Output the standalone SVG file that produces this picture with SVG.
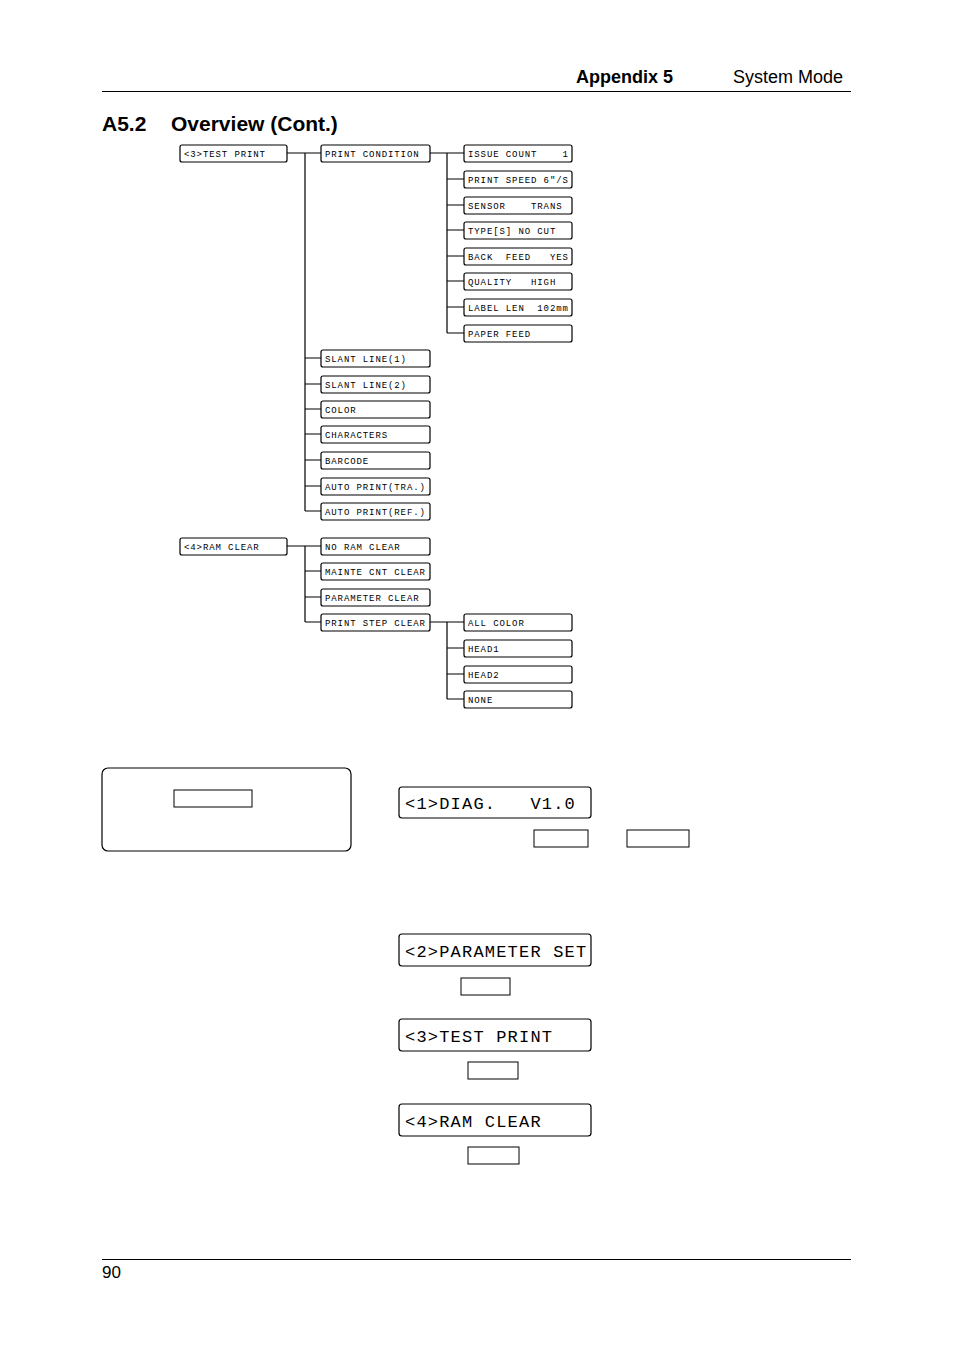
<svg xmlns="http://www.w3.org/2000/svg" width="954" height="1351" viewBox="0 0 954 1351">
<style>
.b{fill:#fff;stroke:#000;stroke-width:1.2}
.s{font-family:"Liberation Mono",monospace;font-size:9px;letter-spacing:0.9px;white-space:pre}
.L{font-family:"Liberation Mono",monospace;font-size:17px;letter-spacing:1.2px;white-space:pre}
.c{stroke:#000;stroke-width:1.2;fill:none}
.e{fill:#fff;stroke:#000;stroke-width:1}
.h{font-family:"Liberation Sans",Arial,sans-serif}
</style>
<rect width="954" height="1351" fill="#fff"/>
<text class="h" x="576" y="83" font-size="18" font-weight="bold">Appendix 5</text>
<text class="h" x="733" y="83" font-size="18">System Mode</text>
<line x1="102" y1="91.5" x2="851" y2="91.5" stroke="#000"/>
<text class="h" x="102" y="131" font-size="21" font-weight="bold">A5.2</text>
<text class="h" x="171" y="131" font-size="21" font-weight="bold">Overview (Cont.)</text>
<line x1="102" y1="1259.5" x2="851" y2="1259.5" stroke="#000"/>
<text class="h" x="102" y="1278" font-size="17">90</text>

<g id="connectors">
<path class="c" d="M287 153H321M305 153V511M305 358H321M305 384H321M305 409H321M305 434H321M305 460H321M305 486H321M305 511H321"/>
<path class="c" d="M430 153H464M447 153V333M447 179H464M447 205H464M447 230H464M447 256H464M447 281H464M447 307H464M447 333H464"/>
<path class="c" d="M287 546H321M305 546V622M305 571H321M305 597H321M305 622H321"/>
<path class="c" d="M430 622H464M447 622V699M447 648H464M447 674H464M447 699H464"/>
</g>

<g id="n-test"><rect class="b" x="180" y="145" width="107" height="17" rx="2"/><text class="s" x="184" y="156.5">&lt;3&gt;TEST PRINT</text></g>
<g id="n-pc"><rect class="b" x="321" y="145" width="109" height="17" rx="2"/><text class="s" x="325" y="156.5">PRINT CONDITION</text></g>
<g id="n-ic"><rect class="b" x="464" y="145" width="108" height="17" rx="2"/><text class="s" x="468" y="156.5">ISSUE COUNT    1</text></g>
<g id="n-ps"><rect class="b" x="464" y="171" width="108" height="17" rx="2"/><text class="s" x="468" y="182.5">PRINT SPEED 6"/S</text></g>
<g id="n-se"><rect class="b" x="464" y="197" width="108" height="17" rx="2"/><text class="s" x="468" y="208.5">SENSOR    TRANS</text></g>
<g id="n-ty"><rect class="b" x="464" y="222" width="108" height="17" rx="2"/><text class="s" x="468" y="233.5">TYPE[S] NO CUT</text></g>
<g id="n-bf"><rect class="b" x="464" y="248" width="108" height="17" rx="2"/><text class="s" x="468" y="259.5">BACK  FEED   YES</text></g>
<g id="n-qu"><rect class="b" x="464" y="273" width="108" height="17" rx="2"/><text class="s" x="468" y="284.5">QUALITY   HIGH</text></g>
<g id="n-ll"><rect class="b" x="464" y="299" width="108" height="17" rx="2"/><text class="s" x="468" y="310.5">LABEL LEN  102mm</text></g>
<g id="n-pf"><rect class="b" x="464" y="325" width="108" height="17" rx="2"/><text class="s" x="468" y="336.5">PAPER FEED</text></g>
<g id="n-sl1"><rect class="b" x="321" y="350" width="109" height="17" rx="2"/><text class="s" x="325" y="361.5">SLANT LINE(1)</text></g>
<g id="n-sl2"><rect class="b" x="321" y="376" width="109" height="17" rx="2"/><text class="s" x="325" y="387.5">SLANT LINE(2)</text></g>
<g id="n-co"><rect class="b" x="321" y="401" width="109" height="17" rx="2"/><text class="s" x="325" y="412.5">COLOR</text></g>
<g id="n-ch"><rect class="b" x="321" y="426" width="109" height="17" rx="2"/><text class="s" x="325" y="437.5">CHARACTERS</text></g>
<g id="n-ba"><rect class="b" x="321" y="452" width="109" height="17" rx="2"/><text class="s" x="325" y="463.5">BARCODE</text></g>
<g id="n-apt"><rect class="b" x="321" y="478" width="109" height="17" rx="2"/><text class="s" x="325" y="489.5">AUTO PRINT(TRA.)</text></g>
<g id="n-apr"><rect class="b" x="321" y="503" width="109" height="17" rx="2"/><text class="s" x="325" y="514.5">AUTO PRINT(REF.)</text></g>

<g id="n-ram"><rect class="b" x="180" y="538" width="107" height="17" rx="2"/><text class="s" x="184" y="549.5">&lt;4&gt;RAM CLEAR</text></g>
<g id="n-nrc"><rect class="b" x="321" y="538" width="109" height="17" rx="2"/><text class="s" x="325" y="549.5">NO RAM CLEAR</text></g>
<g id="n-mcc"><rect class="b" x="321" y="563" width="109" height="17" rx="2"/><text class="s" x="325" y="574.5">MAINTE CNT CLEAR</text></g>
<g id="n-pac"><rect class="b" x="321" y="589" width="109" height="17" rx="2"/><text class="s" x="325" y="600.5">PARAMETER CLEAR</text></g>
<g id="n-psc"><rect class="b" x="321" y="614" width="109" height="17" rx="2"/><text class="s" x="325" y="625.5">PRINT STEP CLEAR</text></g>
<g id="n-ac"><rect class="b" x="464" y="614" width="108" height="17" rx="2"/><text class="s" x="468" y="625.5">ALL COLOR</text></g>
<g id="n-h1"><rect class="b" x="464" y="640" width="108" height="17" rx="2"/><text class="s" x="468" y="651.5">HEAD1</text></g>
<g id="n-h2"><rect class="b" x="464" y="666" width="108" height="17" rx="2"/><text class="s" x="468" y="677.5">HEAD2</text></g>
<g id="n-no"><rect class="b" x="464" y="691" width="108" height="17" rx="2"/><text class="s" x="468" y="702.5">NONE</text></g>

<g id="panel"><rect class="b" x="102" y="768" width="249" height="83" rx="6"/><rect class="e" x="174" y="790" width="78" height="17"/></g>
<g id="d1"><rect class="b" x="399" y="787" width="192" height="31" rx="3"/><text class="L" x="405" y="809">&lt;1&gt;DIAG.   V1.0</text></g>
<rect class="e" x="534" y="830" width="54" height="17"/>
<rect class="e" x="627" y="830" width="62" height="17"/>
<g id="d2"><rect class="b" x="399" y="934" width="192" height="32" rx="3"/><text class="L" x="405" y="957">&lt;2&gt;PARAMETER SET</text></g>
<rect class="e" x="461" y="978" width="49" height="17"/>
<g id="d3"><rect class="b" x="399" y="1019" width="192" height="32" rx="3"/><text class="L" x="405" y="1042">&lt;3&gt;TEST PRINT</text></g>
<rect class="e" x="468" y="1062" width="50" height="17"/>
<g id="d4"><rect class="b" x="399" y="1104" width="192" height="32" rx="3"/><text class="L" x="405" y="1127">&lt;4&gt;RAM CLEAR</text></g>
<rect class="e" x="468" y="1147" width="51" height="17"/>
</svg>
